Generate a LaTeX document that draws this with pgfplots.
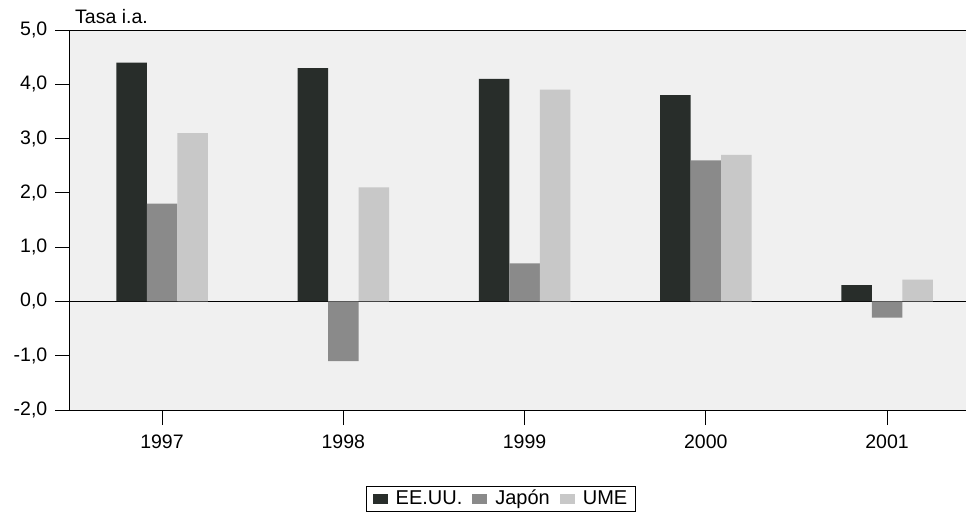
\documentclass[border=0pt]{standalone}
\usepackage{fontspec}
\setmainfont{Liberation Sans}
\usepackage{pgfplots}
\pgfplotsset{compat=1.18}
\definecolor{cUS}{HTML}{282D2A}
\definecolor{cJP}{HTML}{8A8A8A}
\definecolor{cUM}{HTML}{C8C8C8}
\pgfplotsset{
  legsq/.style={legend image code/.code={\fill[##1] (0pt,-5pt) rectangle (15pt,5pt);}}
}
\begin{document}
\fontsize{19.5}{23}\selectfont
\begin{tikzpicture}
\begin{axis}[
  at={(0pt,0pt)}, anchor=south west,
  scale only axis, width=906pt, height=380pt,
  xmin=1996.4924, xmax=2001.491, ymin=-2, ymax=5,
  clip=false,
  ybar=0pt, bar width=30.5pt,
  xtick={1997,1998,1999,2000,2001},
  xticklabels={1997,1998,1999,2000,2001},
  ytick={-2,-1,0,1,2,3,4,5},
  /pgf/number format/fixed, /pgf/number format/fixed zerofill,
  /pgf/number format/precision=1, /pgf/number format/use comma,
  /pgf/number format/assume math mode=true,
  tick align=outside, major tick length=15pt,
  tick style={black, line width=0.8pt},
  xtick pos=bottom, ytick pos=left,
  axis line style={black, line width=1pt},
  axis background/.style={fill=black!6},
  extra y ticks={0}, extra y tick labels={},
  extra y tick style={grid=major, major grid style={black, line width=1pt}},
  ticklabel style={font=\fontsize{19.5}{23}\selectfont},
  yticklabel style={xshift=-1pt},
  xticklabel style={yshift=-3pt},
  legend style={at={(axis description cs:0.4757,-0.2342)}, anchor=center,
    draw=black, line width=0.8pt, fill=white, inner xsep=6pt, inner ysep=1.5pt,
    font=\fontsize{20}{23}\selectfont,
    /tikz/every odd column/.append style={column sep=6pt},
    /tikz/every even column/.append style={column sep=8pt}},
  legend columns=3,
]
\addplot[fill=cUS, draw=none, legsq] coordinates {(1997,4.4) (1998,4.3) (1999,4.1) (2000,3.8) (2001,0.3)};
\addplot[fill=cJP, draw=none, legsq] coordinates {(1997,1.8) (1998,-1.1) (1999,0.7) (2000,2.6) (2001,-0.3)};
\addplot[fill=cUM, draw=none, legsq] coordinates {(1997,3.1) (1998,2.1) (1999,3.9) (2000,2.7) (2001,0.4)};
\legend{EE.UU., Japón, UME}
\node[anchor=south west, inner sep=0pt, xshift=5pt, yshift=6pt] at (rel axis cs:0,1) {Tasa i.a.};
\end{axis}
\pgfresetboundingbox
\useasboundingbox (-70pt,-104pt) rectangle (896pt,410pt);
\end{tikzpicture}
\end{document}
